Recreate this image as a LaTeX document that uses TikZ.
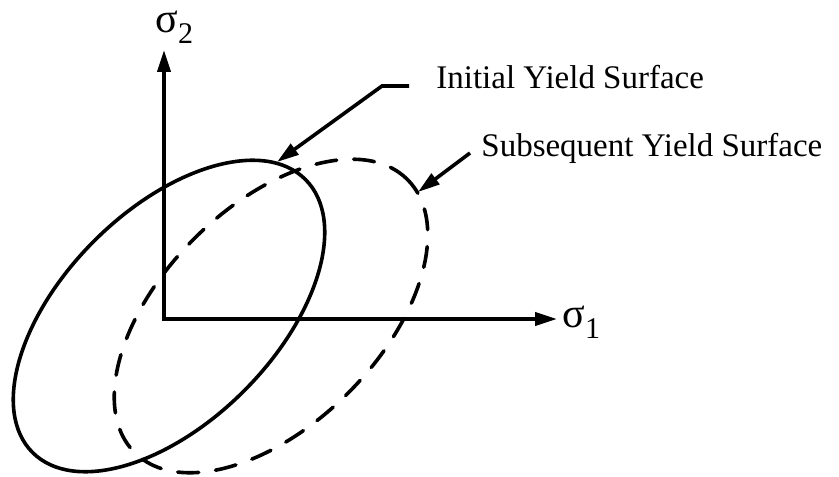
\documentclass[tikz,border=0pt]{standalone}
\usepackage{fontspec}
\setmainfont{Liberation Serif}
\usetikzlibrary{%
	arrows.meta,%
	positioning,%
}
\tikzset{
	>={Triangle[length=11pt,width=6.5pt]},%
	axisline/.style={%
			line width=1.9pt,%
			line join=miter,%
			<->},%
	yieldsurf/.style={%
			line width=1.8pt},%
	yieldnew/.style={%
			yieldsurf,%
			line cap=round,%
			dash pattern=on 10.5pt off 8.5pt},%
	leader/.style={%
			line width=1.8pt,%
			->},%
	lbl/.style={%
			inner sep=0pt,%
			anchor=base west,%
			font={\fontsize{16.5}{20}\selectfont}},%
	stresslbl/.style={%
			inner sep=0pt,%
			anchor=base west},%
}
\newcommand{\stressname}[1]{{\fontsize{21}{24}\selectfont σ}\raisebox{-5.5pt}{\fontsize{15}{18}\selectfont #1}}

\begin{document}
\begin{tikzpicture}[x=0.5pt, y=0.5pt]%
	\useasboundingbox (0,0) rectangle (839,476);

	\coordinate (orig) at (164,157);
	\coordinate (s2tip) at (164,426);
	\coordinate (s1tip) at (557,157);
	\coordinate (cinit) at (169,160);
	\coordinate (csub) at (271,160);
	\coordinate (inittip) at (277,314);
	\coordinate (subtip) at (418,284);

	\node[stresslbl] (s2lbl) at (155,443) {\stressname{2}};
	\node[stresslbl] (s1lbl) at (562,148) {\stressname{1}};

	\node[lbl] (initlbl) at (436,387) {Initial Yield Surface};
	\node[lbl] (sublbl) at (481,319) {Subsequent Yield Surface};

	\draw[yieldsurf, rotate around={45:(cinit)}] (cinit) ellipse [x radius=193, y radius=106];
	\draw[yieldnew, rotate around={45:(csub)}] (csub) ellipse [x radius=193, y radius=109];

	\draw[axisline] (s2tip) -- (orig) -- (s1tip);

	\draw[leader] ([xshift=-13.5pt,yshift=1.5pt]initlbl.base west) -- ++(-27,0) -- (inittip);
	\draw[leader] ([xshift=-5.5pt,yshift=2pt]sublbl.base west) -- (subtip);
\end{tikzpicture}
\end{document}
